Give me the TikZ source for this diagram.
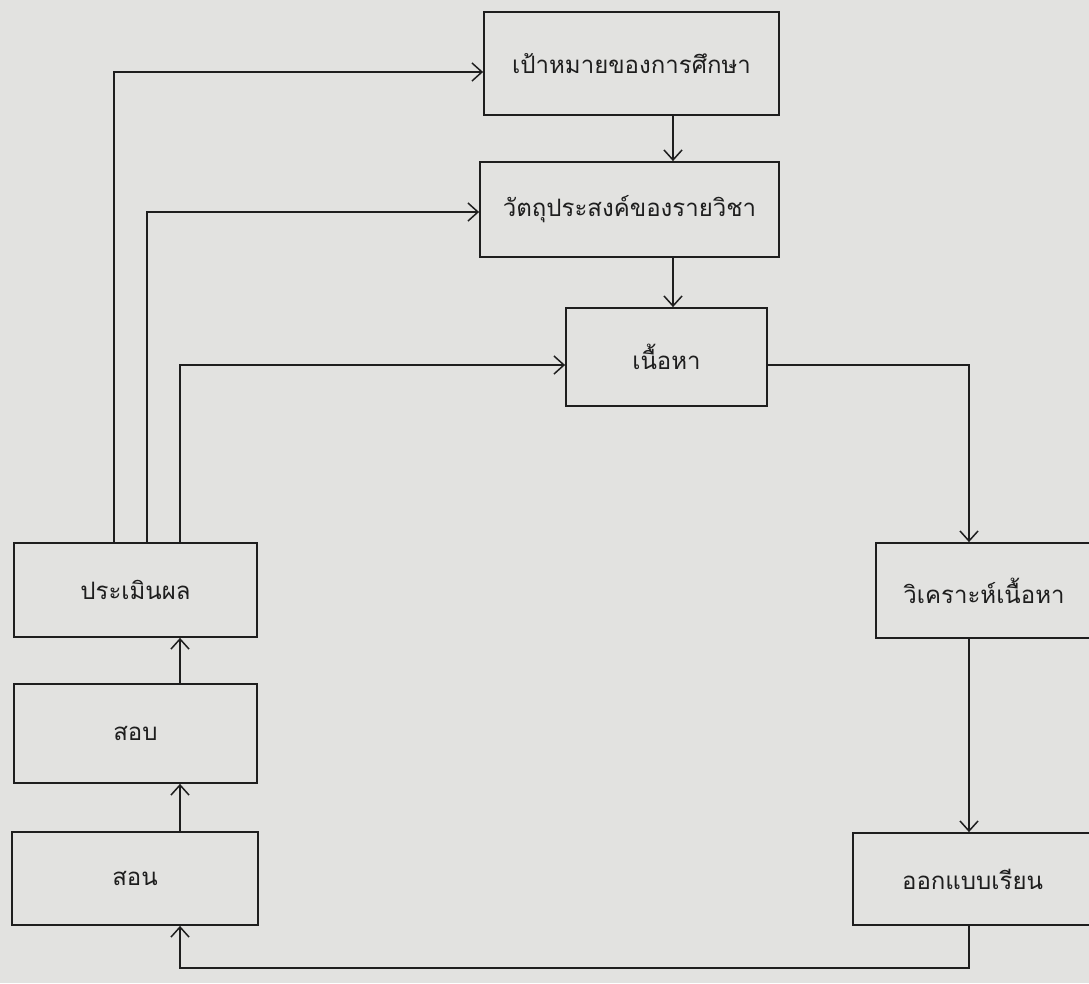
\documentclass[tikz,border=0pt]{standalone}
\usepackage{fontspec}
\newfontfamily\thaifont[Script=Thai]{Loma}
\usetikzlibrary{arrows.meta}
\definecolor{paper}{RGB}{226,226,224}
\definecolor{ink}{RGB}{30,30,30}
\begin{document}
\begin{tikzpicture}[x=1pt,y=-1pt,
  box/.style={draw=ink,line width=1.8pt,rectangle,inner sep=0pt,font=\thaifont\fontsize{24}{28}\selectfont,text=ink},
  conn/.style={draw=ink,line width=1.6pt},
  arr/.style={conn,-{Straight Barb[length=10pt,width=18pt,line width=1.5pt]}}]
\fill[paper] (0,0) rectangle (1089,983);
\useasboundingbox (0,0) rectangle (1089,983);
\node[box,minimum width=295pt,minimum height=103pt] (b1) at (631.5,63.5) {เป้าหมายของการศึกษา};
\node[box,minimum width=299pt,minimum height=95pt] (b2) at (629.5,209.5) {วัตถุประสงค์ของรายวิชา};
\node[box,minimum width=201pt,minimum height=98pt] (b3) at (666.5,357) {เนื้อหา};
\node[box,minimum width=216pt,minimum height=95pt] (b4) at (984,590.5) {วิเคราะห์เนื้อหา};
\node[box,minimum width=239pt,minimum height=92pt] (b5) at (972.5,879) {ออกแบบเรียน};
\node[box,minimum width=243pt,minimum height=94pt] (p) at (135.5,590) {ประเมินผล};
\node[box,minimum width=243pt,minimum height=99pt] (s1) at (135.5,733.5) {สอบ};
\node[box,minimum width=246pt,minimum height=93pt] (s2) at (135,878.5) {สอน};
\coordinate (xa) at (673,0);
\coordinate (xr) at (969,0);
\coordinate (xl) at (180,0);
\coordinate (x1) at (114,0);
\coordinate (x2) at (147,0);
\coordinate (y3) at (0,365);
\coordinate (y1) at (0,72);
\coordinate (y2) at (0,212);
\coordinate (yb) at (0,968);
\draw[arr] (b1.south -| xa) -- (b2.north -| xa);
\draw[arr] (b2.south -| xa) -- (b3.north -| xa);
\draw[arr] (b3.east |- y3) -- (xr |- y3) -- (b4.north -| xr);
\draw[arr] (b4.south -| xr) -- (b5.north -| xr);
\draw[arr] (b5.south -| xr) -- (xr |- yb) -- (xl |- yb) -- (s2.south -| xl);
\draw[arr] (s2.north -| xl) -- (s1.south -| xl);
\draw[arr] (s1.north -| xl) -- (p.south -| xl);
\draw[arr] (p.north -| x1) -- (x1 |- y1) -- (b1.west |- y1);
\draw[arr] (p.north -| x2) -- (x2 |- y2) -- (b2.west |- y2);
\draw[arr] (p.north -| xl) -- (xl |- y3) -- (b3.west |- y3);
\end{tikzpicture}
\end{document}
